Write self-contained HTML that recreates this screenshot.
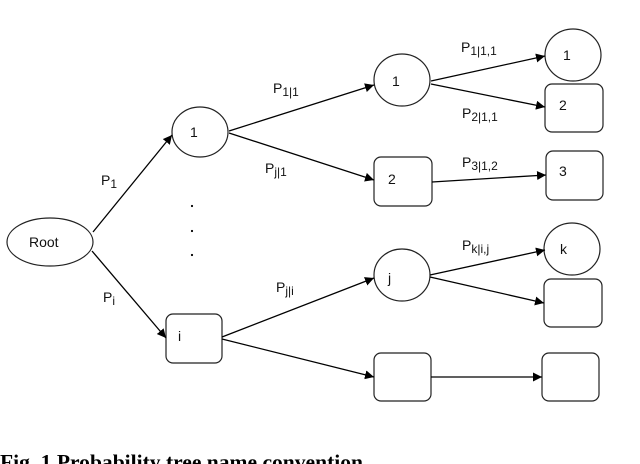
<!DOCTYPE html>
<html><head><style>body{margin:0;background:#fff}svg{display:block}</style></head>
<body>
<svg width="640" height="464" viewBox="0 0 640 464" xmlns="http://www.w3.org/2000/svg">
<defs><marker id="a" viewBox="0 0 10 10" refX="10" refY="5" markerWidth="9" markerHeight="9" markerUnits="userSpaceOnUse" orient="auto"><path d="M0,0L10,5L0,10z" fill="#000"/></marker></defs>
<g fill="#fff" stroke="#222" stroke-width="1.2">
<ellipse cx="50" cy="242" rx="43" ry="24"/>
<ellipse cx="200" cy="132" rx="28" ry="25"/>
<rect x="166" y="314" width="56" height="49" rx="7"/>
<ellipse cx="402" cy="80" rx="28" ry="26"/>
<rect x="374" y="157" width="58" height="49" rx="7"/>
<ellipse cx="402" cy="275" rx="28" ry="26"/>
<rect x="374" y="353" width="57" height="48" rx="7"/>
<ellipse cx="573" cy="55" rx="28" ry="26"/>
<rect x="545" y="84" width="58" height="48" rx="7"/>
<rect x="546" y="151" width="57" height="49" rx="7"/>
<ellipse cx="572" cy="249" rx="28" ry="26"/>
<rect x="544" y="279" width="58" height="48" rx="7"/>
<rect x="542" y="353" width="57" height="48" rx="7"/>
</g>
<g stroke="#000" stroke-width="1.3" marker-end="url(#a)">
<line x1="93" y1="232" x2="172" y2="135"/>
<line x1="92" y1="251" x2="166" y2="338"/>
<line x1="229" y1="131" x2="374" y2="85"/>
<line x1="229" y1="133" x2="374" y2="180"/>
<line x1="222" y1="337" x2="374" y2="278"/>
<line x1="222" y1="339" x2="374" y2="377"/>
<line x1="431" y1="81" x2="545" y2="56"/>
<line x1="431" y1="84" x2="545" y2="107"/>
<line x1="432" y1="182" x2="546" y2="175"/>
<line x1="430" y1="275" x2="545" y2="250"/>
<line x1="430" y1="277" x2="544" y2="303"/>
<line x1="431" y1="377" x2="542" y2="377"/>
</g>
<g fill="#000"><circle cx="192" cy="206" r="1.1"/><circle cx="192" cy="231" r="1.1"/><circle cx="192" cy="255" r="1.1"/></g>
<g font-family="Liberation Sans, sans-serif" font-size="14" fill="#111">
<text x="29" y="247">Root</text>
<text x="190" y="137">1</text>
<text x="178" y="341">i</text>
<text x="392" y="86">1</text>
<text x="388" y="184">2</text>
<text x="388" y="283">j</text>
<text x="563" y="60">1</text>
<text x="559" y="110">2</text>
<text x="559" y="176">3</text>
<text x="560" y="254">k</text>
<text x="101" y="185">P<tspan font-size="12" dy="3">1</tspan></text>
<text x="103" y="302">P<tspan font-size="12" dy="3">i</tspan></text>
<text x="273" y="93">P<tspan font-size="12" dy="3">1|1</tspan></text>
<text x="265" y="173">P<tspan font-size="12" dy="3">j|1</tspan></text>
<text x="276" y="292">P<tspan font-size="12" dy="3">j|i</tspan></text>
<text x="461" y="52">P<tspan font-size="12" dy="3">1|1,1</tspan></text>
<text x="462" y="118">P<tspan font-size="12" dy="3">2|1,1</tspan></text>
<text x="462" y="167">P<tspan font-size="12" dy="3">3|1,2</tspan></text>
<text x="462" y="250">P<tspan font-size="12" dy="3">k|i,j</tspan></text>
</g>
<text x="0" y="469" font-family="Liberation Serif, serif" font-weight="bold" font-size="21" fill="#000" textLength="363" lengthAdjust="spacingAndGlyphs">Fig. 1 Probability tree name convention</text>
</svg>
</body></html>
